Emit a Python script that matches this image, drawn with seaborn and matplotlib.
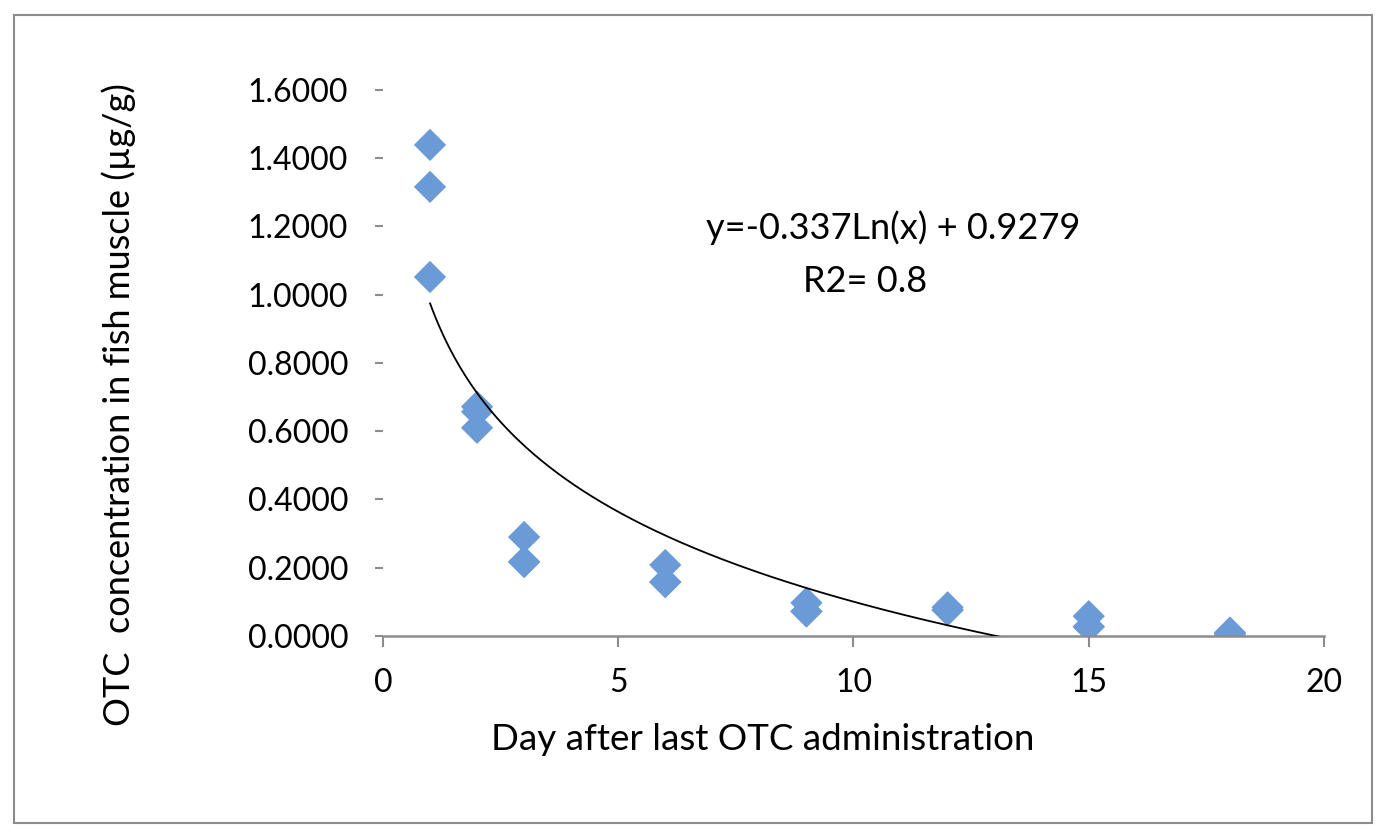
import numpy as np
import pandas as pd
import matplotlib
matplotlib.use("Agg")
import matplotlib.pyplot as plt
import seaborn as sns
from matplotlib.patches import Rectangle

# values (three fish per sampling day,
# some diamonds sit on top of each other)
days = [1, 1, 1, 2, 2, 2, 3, 3, 3, 6, 6, 6, 9, 9, 9,
        12, 12, 12, 15, 15, 15, 18, 18, 18]
otc = [1.439, 1.316, 1.052, 0.672, 0.657, 0.610, 0.290, 0.217, 0.217,
       0.208, 0.158, 0.158, 0.097, 0.072, 0.072, 0.084, 0.076, 0.076,
       0.058, 0.027, 0.027, 0.010, 0.006, 0.006]
x_ticks = [0, 5, 10, 15, 20]
y_ticks = [0.0, 0.2, 0.4, 0.6, 0.8, 1.0, 1.2, 1.4, 1.6]

df = pd.DataFrame({"day": days, "otc": otc})

sns.set_style("white")
plt.rcParams["font.family"] = ["Lato", "DejaVu Sans"]
plt.rcParams["text.color"] = "black"
plt.rcParams["axes.labelcolor"] = "black"
plt.rcParams["xtick.labelcolor"] = "black"
plt.rcParams["ytick.labelcolor"] = "black"

fig = plt.figure(figsize=(13.86, 8.4), dpi=100)
ax = fig.add_axes([0.2763, 0.2429, 0.679, 0.65])

sns.scatterplot(data=df, x="day", y="otc", marker="D", s=270, color="#6B9BD7",
                edgecolor="none", ax=ax, zorder=2)

# logarithmic trendline fitted to the points (as Excel does)
slope, icpt = np.polyfit(np.log(df["day"]), df["otc"], 1)
xx = np.linspace(min(days), max(days), 300)
ax.plot(xx, slope * np.log(xx) + icpt, color="black", lw=1.3, zorder=3)

ax.set_xlim(0, 20)
ax.set_ylim(0, 1.6)
ax.set_xticks(x_ticks)
ax.set_yticks(y_ticks)
ax.set_yticklabels([f"{v:.4f}" for v in y_ticks])
ax.tick_params(axis="x", labelsize=23, length=8, width=1.5, color="#8c8c8c",
               direction="out", bottom=True, pad=15, labelcolor="black")
ax.tick_params(axis="y", labelsize=23, length=6, width=1.5, color="#8c8c8c",
               direction="out", left=True, pad=19, labelcolor="black")
for side in ["top", "right", "left"]:
    ax.spines[side].set_visible(False)
ax.spines["bottom"].set_color("#8c8c8c")
ax.spines["bottom"].set_linewidth(1.8)

ax.set_xlabel("Day after last OTC administration", fontsize=26.5, color="black")
ax.xaxis.set_label_coords(0.404, -0.160)
ax.set_ylabel("OTC  concentration in fish muscle (µg/g)", fontsize=26, color="black")
ax.yaxis.set_label_coords(-0.262, 0.423)

ax.text(10.85, 1.195, "y=-0.337Ln(x) + 0.9279", fontsize=26, ha="center",
        va="center", color="black")
ax.text(10.25, 1.04, "R2= 0.8", fontsize=26, ha="center", va="center", color="black")

fig.patches.append(Rectangle((0.0101, 0.0202), 0.98, 0.962, transform=fig.transFigure,
                             fill=False, edgecolor="#8c8c8c", lw=1.5))

fig.savefig("out.png", dpi=100)
